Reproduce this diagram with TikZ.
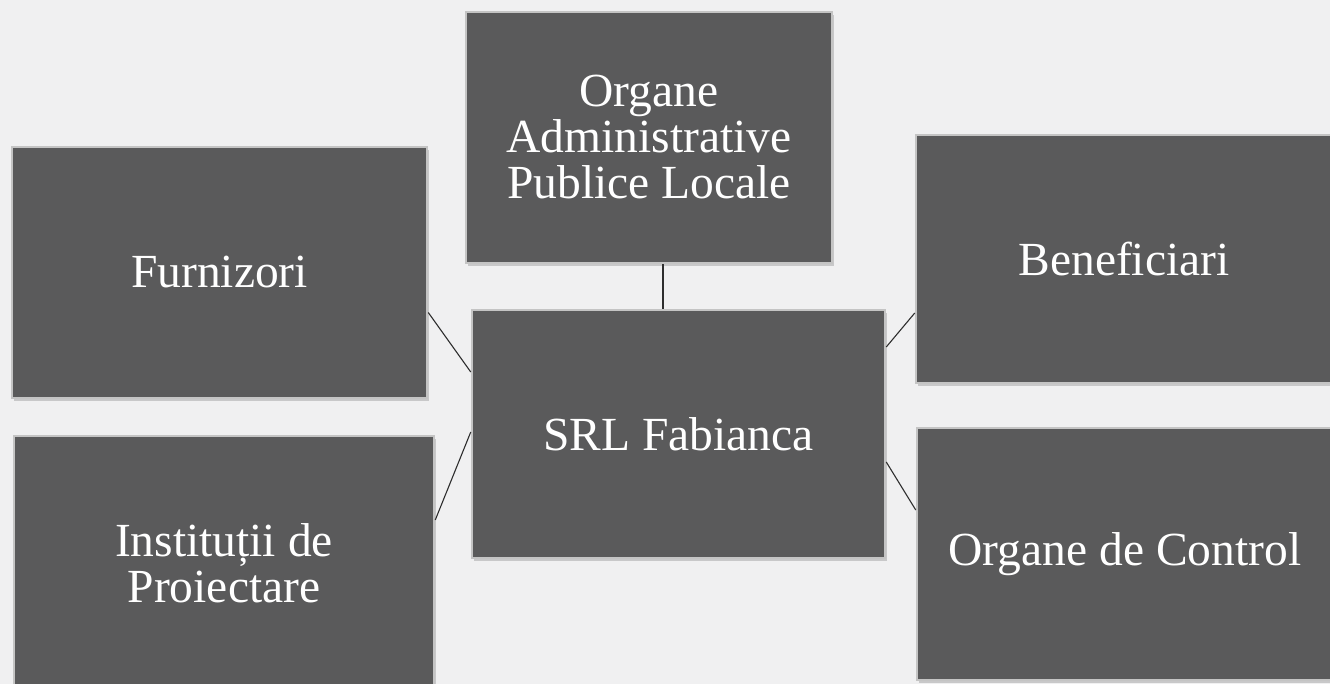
\documentclass[tikz,border=0pt]{standalone}
\usepackage{fontspec}
\setmainfont{Liberation Serif}
\usetikzlibrary{shadows}
\definecolor{boxgray}{HTML}{5A5A5B}
\definecolor{bggray}{HTML}{F0F0F1}
\definecolor{halo}{HTML}{C4C4C4}
\definecolor{linkcol}{HTML}{2E2E2E}
\tikzset{
  entity/.style={rectangle, fill=boxgray, draw=halo, line width=2.5pt,
    text=white, align=center, inner sep=0pt,
    font=\fontsize{47.5}{46}\selectfont,
    drop shadow={opacity=0.35, shadow xshift=2pt, shadow yshift=-3pt}},
  link/.style={draw=linkcol, line width=1.1pt}
}
\begin{document}
\begin{tikzpicture}[x=1pt,y=-1pt]
\fill[bggray] (0,0) rectangle (1330,684);
\useasboundingbox (0,0) rectangle (1330,684);
\node[entity, minimum width=366pt, minimum height=251pt] (org) at (649,137.5)
  {Organe\\Administrative\\Publice Locale};
\node[entity, minimum width=415pt, minimum height=251pt] (furn) at (219.5,272.5)
  {Furnizori};
\node[entity, minimum width=420pt, minimum height=254pt] (inst) at (224,563)
  {Instituții de\\Proiectare};
\node[entity, minimum width=413pt, minimum height=248pt] (srl) at (678.5,434)
  {SRL Fabianca};
\node[entity, minimum width=416pt, minimum height=248pt] (ben) at (1124,259)
  {Beneficiari};
\node[entity, minimum width=416pt, minimum height=252pt] (ctrl) at (1125,554)
  {Organe de Control};
\draw[link] ([xshift=14pt]org.south) -- ([xshift=14pt]org.south |- srl.north);
\draw[link] ([yshift=-40pt]furn.east) -- ([yshift=62pt]srl.west);
\draw[link] ([yshift=43pt]inst.east) -- ([yshift=2pt]srl.west);
\draw[link] ([yshift=87pt]srl.east) -- ([yshift=-54pt]ben.west);
\draw[link] ([yshift=-28pt]srl.east) -- ([yshift=44pt]ctrl.west);
\end{tikzpicture}
\end{document}
